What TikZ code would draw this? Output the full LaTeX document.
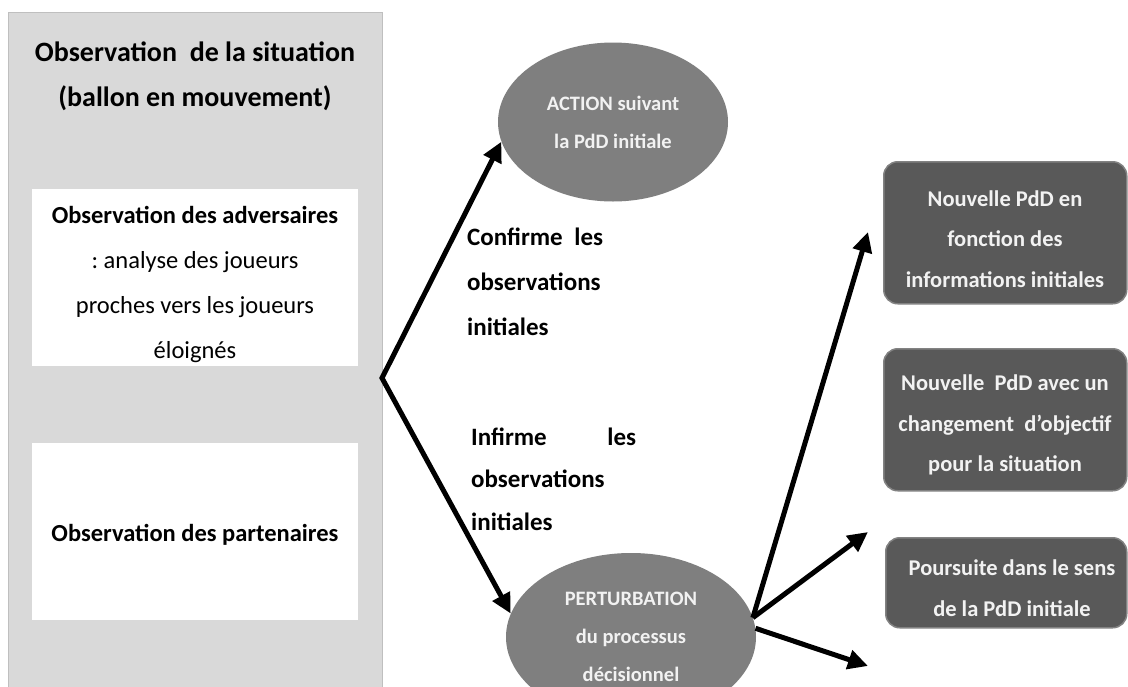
\documentclass[tikz,border=0pt]{standalone}
\usepackage{fontspec}
\setmainfont{Carlito}
\usetikzlibrary{shapes.geometric,arrows.meta}
\definecolor{panelgray}{HTML}{D9D9D9}
\definecolor{paneledge}{HTML}{BFBFBF}
\definecolor{ellgray}{HTML}{7F7F7F}
\definecolor{boxgray}{HTML}{595959}
\definecolor{txtlight}{HTML}{F2F2F2}
\frenchspacing
\begin{document}
\begin{tikzpicture}[x=1pt,y=-1pt,
  panel/.style={fill=panelgray, draw=paneledge, line width=1pt, inner sep=0pt, anchor=north west},
  whitebox/.style={fill=white, draw=none, inner sep=0pt, anchor=north west, minimum width=326pt, minimum height=177pt},
  ell/.style={ellipse, fill=ellgray, draw=none, inner sep=0pt, text=txtlight,
    font=\bfseries\fontsize{20.5}{38}\selectfont, align=center},
  dbox/.style={rounded corners=14pt, fill=boxgray, draw=boxgray!75!white, line width=1.5pt,
    inner sep=0pt, anchor=north west},
  dtext/.style={text=txtlight, font=\bfseries\fontsize{22.5}{40.5}\selectfont, align=center, inner sep=0pt},
  lbltext/.style={font=\bfseries\fontsize{25}{45}\selectfont, align=left, anchor=west, inner sep=0pt},
  arr/.style={line width=5pt, -{Triangle[length=20pt,width=19pt]}},
  arrboth/.style={line width=5pt, {Triangle[length=20pt,width=19pt]}-{Triangle[length=20pt,width=19pt]}},
]
\useasboundingbox (0,0) rectangle (1128,686);
\fill[white] (0,0) rectangle (1128,686);

% left panel
\node[panel, minimum width=374pt, minimum height=690pt] (panel) at (8,12) {};
\node[font=\bfseries\fontsize{28}{45}\selectfont, align=center, inner sep=0pt] (title) at (195,76)
  {Observation\ \ de la situation\\(ballon en mouvement)};
\node[whitebox] (advbox) at (32,189) {};
\node[font=\fontsize{24.5}{45}\selectfont, align=center, inner sep=0pt] (advtext) at (195,284)
  {\textbf{Observation des adversaires}\\: analyse des joueurs\\proches vers les joueurs\\éloignés};
\node[whitebox] (partbox) at (32,443) {};
\node[font=\bfseries\fontsize{24.5}{45}\selectfont, inner sep=0pt] (parttext) at (195,535)
  {Observation des partenaires};

% ellipses
\node[ell, minimum width=230pt, minimum height=159pt] (act) at (613,122) {ACTION suivant\\la PdD initiale};
\node[ell, minimum width=250pt, minimum height=168pt] (pert) at (631,637) {PERTURBATION\\du processus\\décisionnel};

% labels
\node[lbltext] (conf) at (467,282) {\hbox to 136pt{Confirme\hfill les}\\observations\\initiales};
\node[lbltext, font=\bfseries\fontsize{25}{42.5}\selectfont] (infi) at (471,479)
  {\hbox to 165pt{Infirme\hfill les}\\observations\\initiales};

% right boxes
\node[dbox, minimum width=243pt, minimum height=142pt] (boxA) at (883,161) {};
\node[dtext] (textA) at (1005,239) {Nouvelle PdD en\\fonction des\\informations initiales};
\node[dbox, minimum width=243pt, minimum height=142pt] (boxB) at (883,348) {};
\node[dtext] (textB) at (1005,425) {Nouvelle\ \ PdD avec un\\changement\ \ d’objectif\\pour la situation};
\node[dbox, minimum width=241pt, minimum height=90pt] (boxC) at (885,537) {};
\node[dtext] (textC) at (1012,588) {Poursuite dans le sens\\de la PdD initiale};

% connectors
\coordinate (junc) at (382,378);
\coordinate (t1) at (868,232);
\coordinate (t2) at (868,532);
\coordinate (t3) at (868,666);
\draw[arrboth] (act.190) -- (junc) -- (pert.169);
\draw[arr] (pert.9) -- (t1);
\draw[arr] (pert.9) -- (t2);
\draw[arr] (pert.4) -- (t3);
\end{tikzpicture}
\end{document}
